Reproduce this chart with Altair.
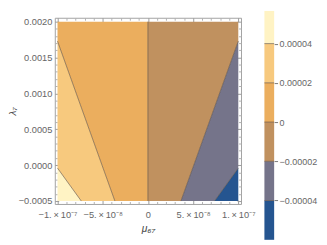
import altair as alt
import pandas as pd

# ---------------- data ----------------
mu_min, mu_max = -1e-7, 1e-7
lam_min, lam_max = -0.0005, 0.002

x_major = [-1e-7, -5e-8, 0.0, 5e-8, 1e-7]
x_major_labels = ["−1.\u2009×\u200910⁻⁷", "−5.\u2009×\u200910⁻⁸", "0", "5.\u2009×\u200910⁻⁸", "1.\u2009×\u200910⁻⁷"]
x_minor = [-9e-8, -8e-8, -7e-8, -6e-8, -4e-8, -3e-8, -2e-8, -1e-8,
           1e-8, 2e-8, 3e-8, 4e-8, 6e-8, 7e-8, 8e-8, 9e-8]

y_major = [-0.0005, 0.0, 0.0005, 0.0010, 0.0015, 0.0020]
y_major_labels = ["−0.0005", "0.0000", "0.0005", "0.0010", "0.0015", "0.0020"]
y_minor = [-0.0004, -0.0003, -0.0002, -0.0001, 0.0001, 0.0002, 0.0003, 0.0004,
           0.0006, 0.0007, 0.0008, 0.0009, 0.0011, 0.0012, 0.0013, 0.0014,
           0.0016, 0.0017, 0.0018, 0.0019]

levels = [-4e-5, -2e-5, 0.0, 2e-5, 4e-5]
level_labels = ["−0.00004", "−0.00002", "0", "0.00002", "0.00004"]

# contour lines, left to right in the plot (levels 4e-5, 2e-5, 0, -2e-5, -4e-5)
contour_level = [4e-5, 2e-5, 0.0, -2e-5, -4e-5]
contour_mu_top = [-1e-7, -1e-7, 0.0, 1e-7, 1e-7]
contour_lam_top = [-0.000041, 0.001728, 0.002, 0.001728, -0.000041]
contour_mu_bottom = [-7.37e-8, -3.65e-8, 0.0, 3.65e-8, 7.37e-8]
contour_lam_bottom = [-0.0005, -0.0005, -0.0005, -0.0005, -0.0005]

# bands, left to right in the plot (highest value first)
band_names = ["> 0.00004", "0.00002–0.00004", "0–0.00002", "−0.00002–0", "−0.00004–−0.00002", "< −0.00004"]
band_colors = ["#FFF3C4", "#F7C97E", "#EBAE5E", "#C0915F", "#75748A", "#255590"]

# colour-bar extent (values at the ends of the bar)
cb_top_end = 5.665e-5
cb_bottom_end = -6.0e-5

# ---------------- derived tables ----------------
def contour_mu(i, lam):
    ms, ls = contour_mu_top[i], contour_lam_top[i]
    me, le = contour_mu_bottom[i], contour_lam_bottom[i]
    if ms == me:
        mu = ms
    else:
        mu = ms + (lam - ls) * (me - ms) / (le - ls)
    return min(max(mu, mu_min), mu_max)

def boundary(j, lam):
    if j == 0:
        return mu_min
    if j == len(contour_level) + 1:
        return mu_max
    return contour_mu(j - 1, lam)

lam_breaks = sorted(set([lam_min, lam_max] + contour_lam_top + contour_lam_bottom))
rows = []
for r, name in enumerate(band_names):
    for lam in lam_breaks:
        rows.append({"band": name, "lam": lam, "left": boundary(r, lam), "right": boundary(r + 1, lam)})
region_df = pd.DataFrame(rows)

line_rows = []
for i, lev in enumerate(contour_level):
    line_rows.append({"contour": str(lev), "mu": contour_mu_top[i], "lam": contour_lam_top[i]})
    line_rows.append({"contour": str(lev), "mu": contour_mu_bottom[i], "lam": contour_lam_bottom[i]})
line_df = pd.DataFrame(line_rows)

edges = [cb_bottom_end] + levels + [cb_top_end]
cb_df = pd.DataFrame({"band": band_names[::-1], "lo": edges[:-1], "hi": edges[1:]})
cb_lev_df = pd.DataFrame({"level": levels})

# ---------------- helpers ----------------
def label_expr(values, labels, eps):
    parts = [f"abs(datum.value - ({repr(float(v))})) < {eps} ? '{l}'" for v, l in zip(values, labels)]
    return " : ".join(parts) + " : ''"

FONT = "Liberation Sans"
LAB = dict(labelFont=FONT, labelFontSize=9.5, labelColor="#666666", labelOverlap=False,
           labelFlush=False, grid=False, domain=False, tickColor="#9a9a9a")

xscale = alt.Scale(domain=[-1.03e-7, 1.03e-7], nice=False, zero=False)
yscale = alt.Scale(domain=[-0.000541, 0.002054], nice=False, zero=False)
cbscale = alt.Scale(domain=[-4.174e-5, 5.317e-5], nice=False, zero=False)
color_scale = alt.Scale(domain=band_names, range=band_colors)

ax_bottom = alt.Axis(orient="bottom", values=x_major, labelExpr=label_expr(x_major, x_major_labels, 1e-9),
                     tickSize=4, offset=-4, labelPadding=5.5, title="μ₆₇", titleFont=FONT,
                     titleFontSize=10.5, titleColor="#444444", titleFontStyle="italic",
                     titleFontWeight="normal", titlePadding=5, **LAB)
ax_left = alt.Axis(orient="left", values=y_major, labelExpr=label_expr(y_major, y_major_labels, 1e-6),
                   tickSize=4, offset=-4, labelPadding=3, title="λ₇", titleFont=FONT,
                   titleFontSize=10, titleColor="#444444", titleFontStyle="italic",
                   titleFontWeight="normal", titlePadding=0.5, **LAB)
ax_top = alt.Axis(orient="top", values=x_major, labels=False, tickSize=4, offset=-4, title=None,
                  grid=False, domain=False, tickColor="#9a9a9a")
ax_right = alt.Axis(orient="right", values=y_major, labels=False, tickSize=4, offset=-4, title=None,
                    grid=False, domain=False, tickColor="#9a9a9a")
ax_bottom_minor = alt.Axis(orient="bottom", values=x_minor, labels=False, tickSize=2.5, offset=-2.5,
                           title=None, grid=False, domain=False, tickColor="#b0b0b0")
ax_left_minor = alt.Axis(orient="left", values=y_minor, labels=False, tickSize=2.5, offset=-2.5,
                         title=None, grid=False, domain=False, tickColor="#b0b0b0")
ax_top_minor = alt.Axis(orient="top", values=x_minor, labels=False, tickSize=2.5, offset=-2.5,
                        title=None, grid=False, domain=False, tickColor="#b0b0b0")
ax_right_minor = alt.Axis(orient="right", values=y_minor, labels=False, tickSize=2.5, offset=-2.5,
                          title=None, grid=False, domain=False, tickColor="#b0b0b0")
ax_cb = alt.Axis(orient="right", values=levels, labelExpr=label_expr(levels, level_labels, 1e-7),
                 tickSize=3.5, offset=34, labelPadding=1.5, title=None, tickColor="#777777",
                 labelFont=FONT, labelFontSize=9.2, labelColor="#666666", labelOverlap=False,
                 labelFlush=False, grid=False, domain=False)

# ---------------- layers ----------------
regions = alt.Chart(region_df).mark_area(orient="horizontal", opacity=1, strokeWidth=0).encode(
    y=alt.Y("lam:Q", scale=yscale, axis=ax_left),
    x=alt.X("left:Q", scale=xscale, axis=ax_bottom, stack=None),
    x2="right:Q",
    color=alt.Color("band:N", scale=color_scale, legend=None),
)

lines = alt.Chart(line_df).mark_line(color="#5a4a3c", strokeWidth=0.8, opacity=0.75).encode(
    x=alt.X("mu:Q", scale=xscale, axis=ax_top),
    y=alt.Y("lam:Q", scale=yscale, axis=ax_right),
    detail="contour:N",
)

minor_a = alt.Chart(line_df).mark_line(opacity=0).encode(
    x=alt.X("mu:Q", scale=xscale, axis=ax_bottom_minor),
    y=alt.Y("lam:Q", scale=yscale, axis=ax_left_minor),
    detail="contour:N",
)
minor_b = alt.Chart(line_df).mark_line(opacity=0).encode(
    x=alt.X("mu:Q", scale=xscale, axis=ax_top_minor),
    y=alt.Y("lam:Q", scale=yscale, axis=ax_right_minor),
    detail="contour:N",
)

cbar = alt.Chart(cb_df).mark_rect().encode(
    x=alt.value(215), x2=alt.value(225),
    y=alt.Y("lo:Q", scale=cbscale, axis=ax_cb),
    y2="hi:Q",
    color=alt.Color("band:N", scale=color_scale, legend=None),
)
cbar_lines = alt.Chart(cb_lev_df).mark_rule(color="#5a4a3c", strokeWidth=0.9, opacity=0.7).encode(
    x=alt.value(215), x2=alt.value(225),
    y=alt.Y("level:Q", scale=cbscale, axis=None),
)

chart = alt.layer(regions, lines, minor_a, minor_b, cbar, cbar_lines).resolve_scale(
    x="independent", y="independent"
).properties(
    width=191, height=191,
    autosize=alt.AutoSizeParams(type="none"),
    padding={"left": 48, "top": 7, "right": 80, "bottom": 37},
).configure_view(stroke="#a0a0a0", strokeWidth=1)

chart.save("out.html", embed_options={"renderer": "svg", "actions": False})
